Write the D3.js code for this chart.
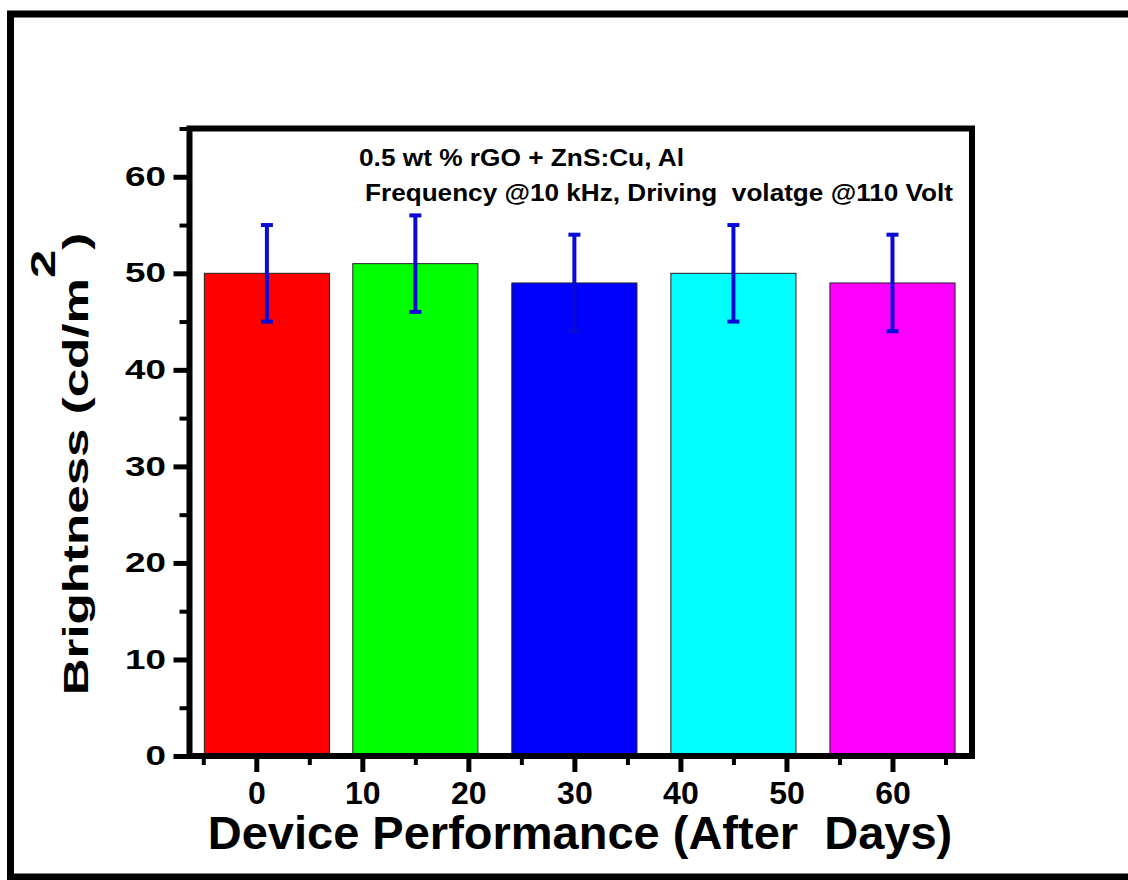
<!DOCTYPE html>
<head>
  <meta charset="utf-8">
<style>
body{
  margin: 0;
  background-color: white;
}
text{
  font-family: Arial, "Liberation Sans", sans-serif;
  font-weight: bold;
  fill: black;
}
</style>
</head>
<body>
  <svg width="1128" height="880"></svg>
</body>

<script src="https://d3js.org/d3.v7.min.js"></script>
<script>

// data
var days = [0, 10, 20, 30, 40, 50, 60];           // x tick labels
var barPos = [1, 15, 30, 45, 60];                  // where the bars sit on the x axis
var brightness = [50, 51, 49, 50, 49];
var errTop = [55, 56, 54, 55, 54];
var errBottom = [45, 46, 44, 45, 44];
var barColors = ["#ff0000", "#00ff00", "#0000ff", "#00ffff", "#ff00ff"];
var yTicks = [0, 10, 20, 30, 40, 50, 60];
var notes = ["0.5 wt % rGO + ZnS:Cu, Al", "Frequency @10 kHz, Driving  volatge @110 Volt"];

var svg = d3.select("svg"),
    width = +svg.attr("width"),
    height = +svg.attr("height");

// plot box edges (window.top is taken, so no "top" here)
var pLeft = 189.5, pRight = 972, pTop = 128.5, pBottom = 756;

var x = d3.scaleLinear().domain([-6.3, 67.5]).range([pLeft, pRight]);
var y = d3.scaleLinear().domain([0, 65]).range([pBottom, pTop]);
var barW = x(11.8) - x(0);

// outer frame
svg.append("rect")
  .attr("x", 10.5).attr("y", 14)
  .attr("width", 1140).attr("height", 863)
  .attr("fill", "none")
  .attr("stroke", "black")
  .attr("stroke-width", 7);

// bars
svg.selectAll(".bar")
  .data(brightness)
  .enter().append("rect")
  .attr("class", "bar")
  .attr("x", (d, i) => x(barPos[i]) - barW / 2)
  .attr("y", d => y(d))
  .attr("width", barW)
  .attr("height", d => y(0) - y(d))
  .attr("fill", (d, i) => barColors[i])
  .attr("stroke", "#222")
  .attr("stroke-width", 1);

// error bars
var err = svg.selectAll(".err")
  .data(brightness)
  .enter().append("g")
  .attr("class", "err")
  .attr("stroke", "#0a0ad8")
  .attr("stroke-width", 4);

err.append("line")
  .attr("x1", (d, i) => x(barPos[i]))
  .attr("x2", (d, i) => x(barPos[i]))
  .attr("y1", (d, i) => y(errTop[i]))
  .attr("y2", (d, i) => y(errBottom[i]));
err.append("line")
  .attr("x1", (d, i) => x(barPos[i]) - 6)
  .attr("x2", (d, i) => x(barPos[i]) + 6)
  .attr("y1", (d, i) => y(errTop[i]))
  .attr("y2", (d, i) => y(errTop[i]));
err.append("line")
  .attr("x1", (d, i) => x(barPos[i]) - 6)
  .attr("x2", (d, i) => x(barPos[i]) + 6)
  .attr("y1", (d, i) => y(errBottom[i]))
  .attr("y2", (d, i) => y(errBottom[i]));

// minor ticks
var xMinor = d3.range(-5, 70, 10);
var yMinor = d3.range(5, 70, 10);

svg.append("g")
  .attr("transform", "translate(0," + pBottom + ")")
  .call(d3.axisBottom(x).tickValues(xMinor).tickSize(9).tickFormat(""))
  .call(g => g.select(".domain").remove())
  .selectAll("line").attr("stroke-width", 4);

svg.append("g")
  .attr("transform", "translate(" + pLeft + ",0)")
  .call(d3.axisLeft(y).tickValues(yMinor).tickSize(10).tickFormat(""))
  .call(g => g.select(".domain").remove())
  .selectAll("line").attr("stroke-width", 4);

// major x axis
var xAxis = svg.append("g")
  .attr("transform", "translate(0," + pBottom + ")")
  .call(d3.axisBottom(x).tickValues(days).tickSize(16).tickPadding(9))
  .call(g => g.select(".domain").remove());
xAxis.selectAll("line").attr("stroke-width", 5);
xAxis.selectAll("text")
  .style("font-size", "32px")
  .style("font-weight", "bold")
  .attr("fill", "black");

// major y axis
var yAxis = svg.append("g")
  .attr("transform", "translate(" + pLeft + ",0)")
  .call(d3.axisLeft(y).tickValues(yTicks).tickSize(16).tickPadding(7.5))
  .call(g => g.select(".domain").remove());
yAxis.selectAll("line").attr("stroke-width", 5);
yAxis.selectAll("text")
  .style("font-size", "27px")
  .style("font-weight", "bold")
  .attr("fill", "black")
  .attr("textLength", d => String(d).length * 20.5)
  .attr("lengthAdjust", "spacingAndGlyphs");

// plot box
svg.append("rect")
  .attr("x", pLeft).attr("y", pTop)
  .attr("width", pRight - pLeft).attr("height", pBottom - pTop)
  .attr("fill", "none")
  .attr("stroke", "black")
  .attr("stroke-width", 6);

// notes inside the plot
var noteX = [359, 365], noteY = [166, 201], noteLen = [325, 588];
svg.selectAll(".note")
  .data(notes)
  .enter().append("text")
  .attr("class", "note")
  .attr("x", (d, i) => noteX[i])
  .attr("y", (d, i) => noteY[i])
  .attr("textLength", (d, i) => noteLen[i])
  .attr("lengthAdjust", "spacingAndGlyphs")
  .style("font-size", "23px")
  .style("white-space", "pre")
  .text(d => d);

// axis titles
svg.append("text")
  .attr("x", 580)
  .attr("y", 849)
  .attr("text-anchor", "middle")
  .style("font-size", "47px")
  .style("white-space", "pre")
  .text("Device Performance (After  Days)");

var yTitle = svg.append("text")
  .attr("transform", "translate(88,464) rotate(-90) scale(1.46,1)")
  .attr("text-anchor", "middle")
  .style("font-size", "35px");
yTitle.append("tspan").text("Brightness (cd/m");
yTitle.append("tspan").attr("dy", -33).text("2");
yTitle.append("tspan").attr("dy", 33).text(")");

</script>
